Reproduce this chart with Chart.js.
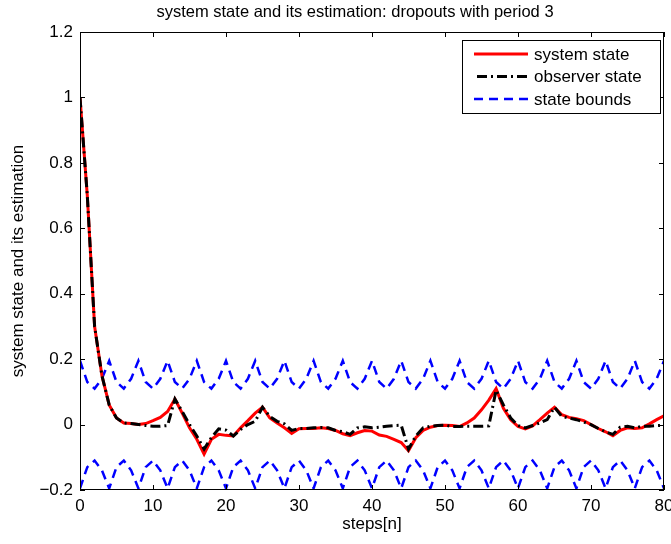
<!DOCTYPE html>
<html>
<head>
<meta charset="utf-8">
<script src="https://cdn.jsdelivr.net/npm/chart.js@4"></script>
<style>
  body { margin: 0; background: #fff; }
  canvas { display: block; }
</style>
</head>
<body>
<canvas id="chart" width="671" height="544"></canvas>
<script>
// steps n = 0..80
const steps = Array.from({ length: 81 }, (_, i) => i)

const systemState = [
  1.0, 0.70, 0.30, 0.15, 0.06, 0.02, 0.005, 0.003, 0.0, 0.003,
  0.012, 0.022, 0.04, 0.078, 0.035, -0.01, -0.045, -0.09, -0.045, -0.03,
  -0.033, -0.035, -0.01, 0.012, 0.035, 0.053, 0.02, 0.005, -0.01, -0.027,
  -0.013, -0.012, -0.012, -0.01, -0.012, -0.018, -0.028, -0.034, -0.025, -0.018,
  -0.02, -0.032, -0.036, -0.045, -0.055, -0.08, -0.04, -0.018, -0.008, -0.003,
  -0.002, -0.003, -0.006, 0.005, 0.02, 0.045, 0.075, 0.11, 0.05, 0.015,
  -0.006, -0.013, -0.004, 0.015, 0.035, 0.053, 0.03, 0.022, 0.018, 0.012,
  0.0, -0.012, -0.022, -0.034, -0.018, -0.01, -0.012, -0.01, 0.002, 0.015,
  0.027
]

const observerState = [
  1.0, 0.70, 0.30, 0.15, 0.06, 0.02, 0.005, 0.003, 0.0, -0.003,
  -0.005, -0.005, -0.003, 0.078, 0.04, 0.0, -0.035, -0.075, -0.04, -0.013,
  -0.017, -0.035, -0.015, 0.0, 0.01, 0.053, 0.025, 0.01, 0.002, -0.018,
  -0.012, -0.012, -0.01, -0.009, -0.01, -0.018, -0.022, -0.03, -0.01, -0.007,
  -0.01, -0.008, -0.005, -0.003, -0.002, -0.075, -0.035, -0.01, -0.005, -0.003,
  -0.002, -0.006, -0.006, -0.005, -0.005, -0.005, -0.004, 0.105, 0.06, 0.02,
  -0.003, -0.01, -0.003, 0.005, 0.015, 0.053, 0.025, 0.02, 0.015, 0.008,
  0.0, -0.012, -0.022, -0.03, -0.008, -0.005, -0.01, -0.005, -0.005, -0.003,
  -0.002
]

const upperBound = [
  0.195, 0.13, 0.11, 0.14, 0.195, 0.13, 0.11, 0.14, 0.195, 0.13,
  0.11, 0.14, 0.195, 0.13, 0.11, 0.14, 0.195, 0.13, 0.11, 0.14,
  0.195, 0.13, 0.11, 0.14, 0.195, 0.13, 0.11, 0.14, 0.195, 0.13,
  0.11, 0.14, 0.195, 0.13, 0.11, 0.14, 0.195, 0.13, 0.11, 0.14,
  0.195, 0.13, 0.11, 0.14, 0.195, 0.13, 0.11, 0.14, 0.195, 0.13,
  0.11, 0.14, 0.195, 0.13, 0.11, 0.14, 0.195, 0.13, 0.11, 0.14,
  0.195, 0.13, 0.11, 0.14, 0.195, 0.13, 0.11, 0.14, 0.195, 0.13,
  0.11, 0.14, 0.195, 0.13, 0.11, 0.14, 0.195, 0.13, 0.11, 0.14,
  0.195
]

const lowerBound = [
  -0.195, -0.13, -0.11, -0.14, -0.195, -0.13, -0.11, -0.14, -0.195, -0.13,
  -0.11, -0.14, -0.195, -0.13, -0.11, -0.14, -0.195, -0.13, -0.11, -0.14,
  -0.195, -0.13, -0.11, -0.14, -0.195, -0.13, -0.11, -0.14, -0.195, -0.13,
  -0.11, -0.14, -0.195, -0.13, -0.11, -0.14, -0.195, -0.13, -0.11, -0.14,
  -0.195, -0.13, -0.11, -0.14, -0.195, -0.13, -0.11, -0.14, -0.195, -0.13,
  -0.11, -0.14, -0.195, -0.13, -0.11, -0.14, -0.195, -0.13, -0.11, -0.14,
  -0.195, -0.13, -0.11, -0.14, -0.195, -0.13, -0.11, -0.14, -0.195, -0.13,
  -0.11, -0.14, -0.195, -0.13, -0.11, -0.14, -0.195, -0.13, -0.11, -0.14,
  -0.195
]

const legendLabels = ['system state', 'observer state', 'state bounds']
const titleText = 'system state and its estimation: dropouts with period 3'

const xy = arr => arr.map((v, i) => ({ x: steps[i], y: v }))

const FONT = '"Liberation Sans", Arial, sans-serif'

// matlab style box + inward ticks, title, legend
const framePlugin = {
  id: 'frame',
  afterDatasetsDraw(chart) {
    const { ctx, chartArea: a, scales } = chart
    ctx.save()
    ctx.strokeStyle = '#000'
    ctx.lineWidth = 1
    ctx.strokeRect(Math.round(a.left) + 0.5, Math.round(a.top) + 0.5,
      Math.round(a.right - a.left) - 1, Math.round(a.bottom - a.top) - 1)
    const len = 5
    ctx.beginPath()
    scales.x.ticks.forEach(t => {
      const px = Math.round(scales.x.getPixelForValue(t.value)) + 0.5
      ctx.moveTo(px, a.bottom); ctx.lineTo(px, a.bottom - len)
      ctx.moveTo(px, a.top); ctx.lineTo(px, a.top + len)
    })
    scales.y.ticks.forEach(t => {
      const py = Math.round(scales.y.getPixelForValue(t.value)) + 0.5
      ctx.moveTo(a.left, py); ctx.lineTo(a.left + len, py)
      ctx.moveTo(a.right, py); ctx.lineTo(a.right - len, py)
    })
    ctx.stroke()
    ctx.restore()
  },
  afterDraw(chart) {
    const { ctx, chartArea: a } = chart
    ctx.save()
    // title (matlab puts it a bit left of the axes centre here)
    ctx.fillStyle = '#000'
    ctx.font = '16.5px ' + FONT
    ctx.textAlign = 'center'
    ctx.textBaseline = 'middle'
    ctx.fillText(titleText, (a.left + a.right) / 2 - 17, 12)

    // legend box, top right inside the axes
    const box = { x: a.right - 202, y: a.top + 8, w: 198, h: 73 }
    ctx.fillStyle = '#fff'
    ctx.fillRect(box.x, box.y, box.w, box.h)
    ctx.strokeStyle = '#000'
    ctx.lineWidth = 1
    ctx.strokeRect(box.x + 0.5, box.y + 0.5, box.w, box.h)
    const ds = chart.data.datasets.slice(0, 3)
    ds.forEach((d, i) => {
      const y = box.y + 14 + i * 22.5
      ctx.beginPath()
      ctx.strokeStyle = d.borderColor
      ctx.lineWidth = d.borderWidth
      ctx.setLineDash(d.borderDash || [])
      ctx.lineDashOffset = i == 1 ? -3 : 0
      ctx.moveTo(box.x + 12, y)
      ctx.lineTo(box.x + 66, y)
      ctx.stroke()
      ctx.setLineDash([])
      ctx.fillStyle = '#000'
      ctx.font = '17px ' + FONT
      ctx.textBaseline = 'middle'
      ctx.textAlign = 'left'
      ctx.fillText(legendLabels[i], box.x + 72, y + 1)
    })
    ctx.restore()
  }
}

Chart.defaults.font.family = FONT
Chart.defaults.font.size = 17
Chart.defaults.color = '#000'

new Chart(document.getElementById('chart'), {
  type: 'line',
  data: {
    datasets: [
      {
        label: legendLabels[0],
        data: xy(systemState),
        borderColor: '#ff0000',
        borderWidth: 3,
        order: 2
      },
      {
        label: legendLabels[1],
        data: xy(observerState),
        borderColor: '#000000',
        borderWidth: 3,
        borderDash: [10, 4, 2, 4],
        order: 1
      },
      {
        label: legendLabels[2],
        data: xy(upperBound),
        borderColor: '#0000ff',
        borderWidth: 2.5,
        borderDash: [9, 6],
        order: 3
      },
      {
        label: 'lower',
        data: xy(lowerBound),
        borderColor: '#0000ff',
        borderWidth: 2.5,
        borderDash: [9, 6],
        order: 3
      }
    ]
  },
  options: {
    responsive: false,
    animation: false,
    layout: { padding: { top: 32, left: 0, right: 0, bottom: 0 } },
    elements: {
      point: { radius: 0 },
      line: { tension: 0, borderCapStyle: 'butt' }
    },
    plugins: {
      legend: { display: false },
      tooltip: { enabled: false },
      title: { display: false }
    },
    scales: {
      x: {
        type: 'linear',
        min: 0,
        max: 80,
        ticks: { stepSize: 10, padding: 6, maxRotation: 0 },
        grid: { display: false, tickLength: 0 },
        border: { display: false },
        title: { display: true, text: 'steps[n]', padding: { top: 0, bottom: 9 } },
        afterFit: s => { s.height = 54; s.paddingRight = 7; s.paddingLeft = 0 }
      },
      y: {
        min: -0.2,
        max: 1.2,
        ticks: {
          stepSize: 0.2,
          padding: 7,
          callback: v => {
            const r = Math.round(v * 10) / 10
            if (r == 0) return '0'
            return r < 0 ? '\u2212' + String(-r) : String(r)
          }
        },
        grid: { display: false, tickLength: 0 },
        border: { display: false },
        title: { display: true, text: 'system state and its estimation', padding: { top: 8, bottom: 0 } },
        afterFit: s => { s.width = 80; s.paddingTop = 0; s.paddingBottom = 0 }
      }
    }
  },
  plugins: [framePlugin]
})
</script>
</body>
</html>
